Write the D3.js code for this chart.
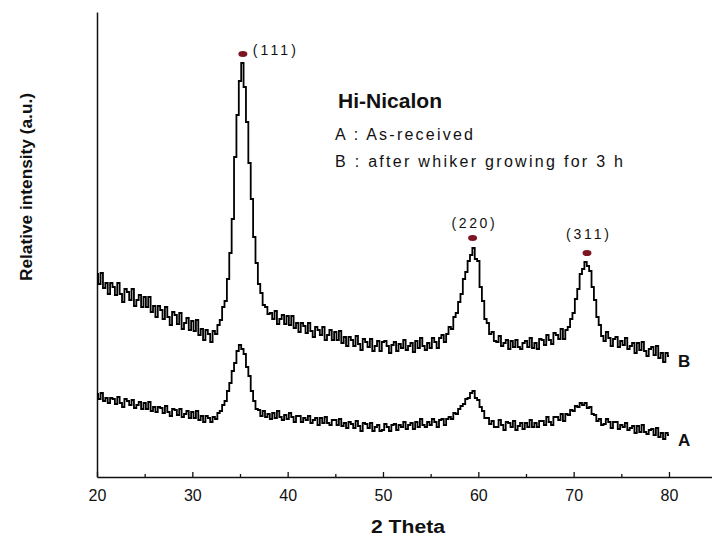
<!DOCTYPE html>
<html><head><meta charset="utf-8">
<script src="https://cdn.jsdelivr.net/npm/d3@7"></script>
<style>
html,body{margin:0;padding:0;background:#fff;}
svg{display:block;}
text{font-family:Arial,"Liberation Sans",sans-serif;fill:#111;}
</style></head><body>
<svg id="chart" width="712" height="547"></svg>
<script>
// 2θ grid: 20° to 80° in 0.25° steps
const twoThetaStart = 20, twoThetaStep = 0.25;
// Series B: after whisker growing for 3 h (relative intensity, a.u.)
const seriesB = [203,193,204,189,194,183,194,190,182,194,183,175,188,185,177,188,171,177,182,170,
180,170,180,165,171,160,171,167,158,170,160,152,165,162,153,164,148,154,159,147,
156,146,157,142,148,137,147,143,135,146,143,152,157,170,176,198,224,258,320,362,
396,414,390,355,314,278,240,214,193,184,172,170,163,164,158,166,153,158,162,153,
161,152,161,149,154,145,154,151,144,154,146,140,150,147,142,150,137,142,147,137,
145,137,146,134,140,131,140,137,131,141,133,127,138,135,130,138,126,131,136,126,
135,136,131,124,132,135,126,133,129,137,127,131,134,125,136,129,139,131,127,134,
129,139,135,129,139,142,135,143,150,148,160,164,175,183,198,205,216,222,229,218,
216,190,176,158,154,143,145,136,135,141,131,134,137,128,136,130,137,130,128,134,
136,130,139,129,134,128,138,137,132,142,137,133,144,142,138,148,138,147,150,158,
164,178,188,203,208,215,211,206,190,177,160,152,141,136,145,139,131,138,140,130,
136,132,139,128,131,134,124,134,127,135,126,121,128,130,122,131,119,124,115,124,121];
// Series A: as-received
const seriesA = [83,78,84,76,79,74,79,78,73,80,74,70,78,76,72,77,69,72,75,68,
74,68,75,66,70,65,70,69,64,71,65,61,68,67,62,68,60,63,66,59,
65,59,66,57,61,55,61,59,55,60,58,64,66,72,76,86,94,106,114,126,
132,128,123,110,101,86,76,68,67,61,66,60,63,58,64,59,66,60,57,62,
58,64,60,55,61,61,55,59,57,61,54,57,59,52,59,54,60,54,52,57,
57,52,58,51,54,49,55,53,49,56,51,46,54,53,49,54,46,50,52,46,
47,53,50,46,52,53,47,52,50,55,48,52,54,48,55,50,58,52,50,55,
52,58,55,50,57,58,52,58,60,58,64,63,68,71,73,78,79,84,86,79,
77,70,66,59,59,53,56,50,50,57,52,47,55,54,50,56,47,51,54,48,
54,50,57,50,54,50,56,56,52,60,55,52,60,60,57,63,56,63,62,67,
66,71,70,74,72,74,69,70,63,62,56,58,52,53,58,55,49,55,55,48,
52,50,54,47,49,51,44,51,45,52,45,43,47,48,42,49,40,44,38,44,42];
// Peak markers (SiC reflections)
const peakLabels = ["(111)", "(220)", "(311)"];
const peakPos = [35.3, 59.4, 71.4];
const peakMarkerY = [423, 239, 224];
// Axis ticks
const xMajorTicks = [20, 30, 40, 50, 60, 70, 80];
const xMinorTicks = [25, 35, 45, 55, 65, 75];
const seriesNames = ["A", "B"];
const legendTitle = "Hi-Nicalon";
const legendLines = ["A : As-received", "B : after whiker growing for 3 h"];

const svg = d3.select("#chart");
const x = d3.scaleLinear().domain([20, 85]).range([97, 97 + 65 * 9.533]);
const y = d3.scaleLinear().domain([0, 465]).range([477, 12]);

const mk = arr => arr.map((v, i) => ({t: twoThetaStart + i * twoThetaStep, v}));
const line = d3.line().x(d => x(d.t)).y(d => y(d.v)).curve(d3.curveStep);

// axes
const xAxis = svg.append("g").attr("transform", "translate(0,477)")
  .call(d3.axisBottom(x).tickValues(xMajorTicks).tickSize(-5).tickSizeOuter(0).tickPadding(13).tickFormat(d3.format("d")));
xAxis.select(".domain").attr("stroke", "#111").attr("stroke-width", 1.5);
xAxis.selectAll(".tick line").attr("stroke", "#111").attr("stroke-width", 1.3);
xAxis.selectAll("text").attr("font-size", 16).attr("fill", "#222");
const xMinor = svg.append("g").attr("transform", "translate(0,477)")
  .call(d3.axisBottom(x).tickValues(xMinorTicks).tickSize(-3).tickFormat(""));
xMinor.select(".domain").remove();
xMinor.selectAll(".tick line").attr("stroke", "#111").attr("stroke-width", 1.3);

const yAxis = svg.append("g").attr("transform", "translate(97,0)")
  .call(d3.axisLeft(y).tickValues([]).tickSizeOuter(0));
yAxis.select(".domain").attr("stroke", "#111").attr("stroke-width", 1.5);

// curves
[seriesA, seriesB].forEach(s => {
  svg.append("path").datum(mk(s)).attr("d", line)
    .attr("fill", "none").attr("stroke", "#000").attr("stroke-width", 1.8);
});

// series end labels
const ends = [seriesA, seriesB];
seriesNames.forEach((n, i) => {
  const s = ends[i];
  svg.append("text").attr("x", x(80) + 9).attr("y", y(s[s.length - 1]) + 11)
    .attr("font-size", 17).attr("font-weight", "bold").text(n);
});

// peak markers & labels
const labelDy = [1, -10, -14];
peakPos.forEach((p, i) => {
  svg.append("ellipse").attr("cx", x(p)).attr("cy", y(peakMarkerY[i]))
    .attr("rx", 4.5).attr("ry", 3).attr("fill", "#7d1422");
  const t = svg.append("text").attr("font-size", 14)
    .attr("textLength", 43).attr("lengthAdjust", "spacing").text(peakLabels[i]);
  if (i === 0) t.attr("x", x(p) + 10).attr("y", y(peakMarkerY[i]) + labelDy[i]);
  else t.attr("x", x(p) - 21).attr("y", y(peakMarkerY[i]) + labelDy[i]);
});

// legend block
svg.append("text").attr("x", 338).attr("y", 108).attr("font-size", 20).attr("font-weight", "bold")
  .attr("textLength", 104).attr("lengthAdjust", "spacingAndGlyphs").text(legendTitle);
svg.append("text").attr("x", 335).attr("y", 140).attr("font-size", 16)
  .attr("textLength", 138).attr("lengthAdjust", "spacing").text(legendLines[0]);
svg.append("text").attr("x", 335).attr("y", 167).attr("font-size", 16)
  .attr("textLength", 288).attr("lengthAdjust", "spacing").text(legendLines[1]);

// axis titles
svg.append("text").attr("x", 408).attr("y", 533).attr("text-anchor", "middle")
  .attr("font-size", 18).attr("font-weight", "bold").attr("textLength", 74).attr("lengthAdjust", "spacingAndGlyphs").text("2 Theta");
svg.append("text").attr("transform", "translate(32,187) rotate(-90)").attr("text-anchor", "middle")
  .attr("font-size", 17).attr("font-weight", "bold").attr("textLength", 188).attr("lengthAdjust", "spacingAndGlyphs")
  .text("Relative intensity (a.u.)");
</script>
</body></html>
